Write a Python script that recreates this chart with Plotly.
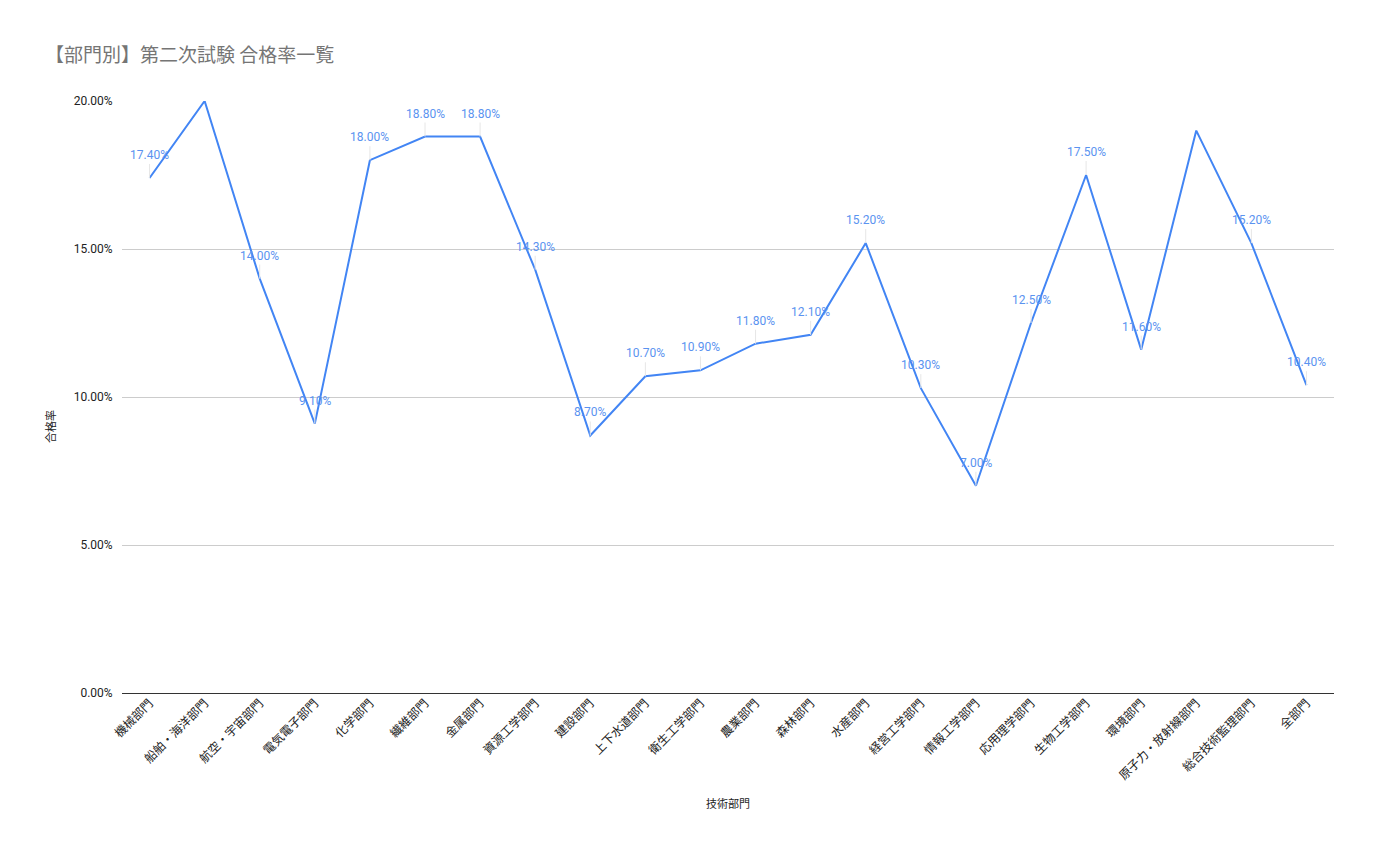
import plotly.graph_objects as go

categories = ["機械部門", "船舶・海洋部門", "航空・宇宙部門", "電気電子部門", "化学部門", "繊維部門",
              "金属部門", "資源工学部門", "建設部門", "上下水道部門", "衛生工学部門", "農業部門",
              "森林部門", "水産部門", "経営工学部門", "情報工学部門", "応用理学部門", "生物工学部門",
              "環境部門", "原子力・放射線部門", "総合技術監理部門", "全部門"]
pass_rate = [0.174, 0.200, 0.140, 0.091, 0.180, 0.188, 0.188, 0.143, 0.087, 0.107, 0.109, 0.118,
             0.121, 0.152, 0.103, 0.070, 0.125, 0.175, 0.116, 0.190, 0.152, 0.104]
# labels shown in the reference (two are hidden by the chart)
show_label = [True, False, True, True, True, True, True, True, True, True, True, True,
              True, True, True, True, True, True, True, False, True, True]
y_ticks = [0.0, 0.05, 0.10, 0.15, 0.20]

FONT = "Roboto, 'Noto Sans CJK JP', sans-serif"
CJK = "'Noto Sans CJK JP', sans-serif"
BLUE = "#4285F4"

fig = go.Figure()
fig.add_trace(go.Scatter(x=categories, y=pass_rate, mode="lines",
                         line=dict(color=BLUE, width=2), hoverinfo="x+y"))

for c, v, s in zip(categories, pass_rate, show_label):
    if s:
        fig.add_annotation(x=c, y=v, xref="x", yref="y", text=f"{v*100:.2f}%",
                           showarrow=True, arrowhead=0, arrowwidth=1, arrowcolor="#e6e6e6",
                           ax=0, ay=-14, yanchor="bottom",
                           font=dict(family=FONT, size=12, color="#5b93f0"))

# y-axis title placed like the reference (slightly below the plot centre)
fig.add_annotation(text="合格率", xref="paper", yref="paper", x=-0.06, y=0.45,
                   xanchor="center", yanchor="middle", textangle=-90, showarrow=False,
                   font=dict(family=CJK, size=11, color="#222"))

fig.update_layout(
    width=1369, height=844,
    paper_bgcolor="white", plot_bgcolor="white",
    margin=dict(l=114, r=43, t=93, b=159),
    title=dict(text="【部門別】第二次試験 合格率一覧", x=0.027, xanchor="left", y=0.944, yanchor="middle",
               font=dict(family=CJK, size=19, color="#757575")),
    font=dict(family=FONT, size=11, color="#222"),
    showlegend=False,
    xaxis=dict(type="category", range=[-0.5, len(categories) - 0.5], tickangle=-45,
               showgrid=False, showline=False, ticks="",
               tickfont=dict(family=CJK, size=12, color="#222"),
               title=dict(text="技術部門", font=dict(family=CJK, size=11, color="#222"), standoff=18)),
    yaxis=dict(range=[0, 0.20], tickvals=y_ticks, tickformat=".2%", showgrid=True,
               gridcolor="#cccccc", gridwidth=1, zeroline=True, zerolinecolor="#333333",
               zerolinewidth=1, ticks="outside", ticklen=6, tickcolor="rgba(0,0,0,0)",
               tickfont=dict(family=FONT, size=12, color="#222")),
)

fig.write_html("out.html")
